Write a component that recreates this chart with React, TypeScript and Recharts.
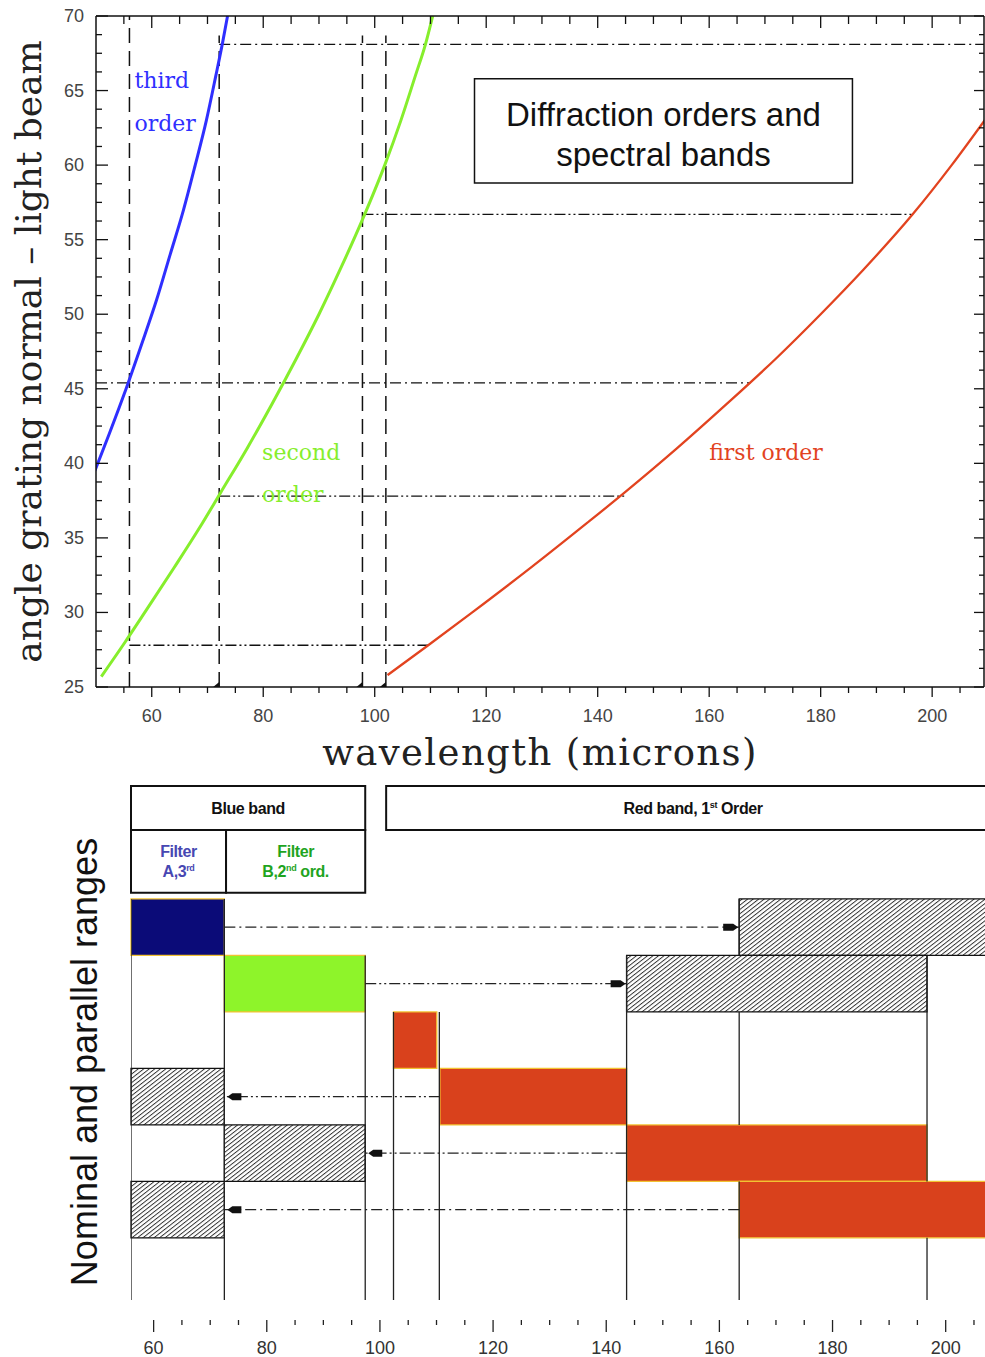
import React from 'react';
import {
  LineChart,
  ComposedChart,
  Line,
  XAxis,
  YAxis,
  ReferenceLine,
  ReferenceArea,
  ReferenceDot,
} from 'recharts';

const SANS = "'Liberation Sans', Arial, Helvetica, sans-serif";
const SERIF = "'DejaVu Serif', 'Liberation Serif', serif";

const BLUE = '#2f2fff';
const GREEN = '#86ee2c';
const RED = '#e2431f';
const NAVY = '#0b0b78';
const LIME = '#8ef42a';
const ORANGE = '#d9411c';
const YELLOW = '#f2c232';

// ---------------- top chart: diffraction curves ----------------
const THIRD_ORDER = [
  { wl: 49.8, angle: 39.5 },
  { wl: 52.4, angle: 42 },
  { wl: 55.4, angle: 45 },
  { wl: 58.2, angle: 48 },
  { wl: 60.9, angle: 51 },
  { wl: 63.3, angle: 54 },
  { wl: 65.7, angle: 57 },
  { wl: 67.8, angle: 60 },
  { wl: 69.8, angle: 63 },
  { wl: 71.5, angle: 66 },
  { wl: 72.7, angle: 68.2 },
  { wl: 73.6, angle: 70 },
];

const SECOND_ORDER = [
  { wl: 50.95, angle: 25.7 },
  { wl: 55.2, angle: 28 },
  { wl: 58.75, angle: 30 },
  { wl: 64.0, angle: 33 },
  { wl: 69.1, angle: 36 },
  { wl: 72.3, angle: 38 },
  { wl: 77.1, angle: 41 },
  { wl: 81.6, angle: 44 },
  { wl: 85.9, angle: 47 },
  { wl: 90.0, angle: 50 },
  { wl: 93.8, angle: 53 },
  { wl: 98.2, angle: 56.7 },
  { wl: 101.8, angle: 60 },
  { wl: 104.7, angle: 63 },
  { wl: 107.3, angle: 66 },
  { wl: 109.1, angle: 68.1 },
  { wl: 110.4, angle: 70 },
];

const FIRST_ORDER = [
  { wl: 102.3, angle: 25.8 },
  { wl: 109.6, angle: 27.8 },
  { wl: 117.5, angle: 30 },
  { wl: 128.0, angle: 33 },
  { wl: 138.1, angle: 36 },
  { wl: 144.7, angle: 38 },
  { wl: 154.2, angle: 41 },
  { wl: 163.2, angle: 44 },
  { wl: 171.9, angle: 47 },
  { wl: 180.0, angle: 50 },
  { wl: 187.7, angle: 53 },
  { wl: 196.5, angle: 56.7 },
  { wl: 203.5, angle: 60 },
  { wl: 209.6, angle: 63.1 },
];

const TOP_X_DOMAIN = [50, 209.3];
const TOP_Y_DOMAIN = [25, 70];
const TOP_X_TICKS = [55, 60, 65, 70, 75, 80, 85, 90, 95, 100, 105, 110, 115, 120, 125, 130, 135, 140, 145, 150, 155, 160, 165, 170, 175, 180, 185, 190, 195, 200, 205];
const TOP_X_LABELS = [60, 80, 100, 120, 140, 160, 180, 200];
const TOP_Y_TICKS = [25, 26.25, 27.5, 28.75, 30, 31.25, 32.5, 33.75, 35, 36.25, 37.5, 38.75, 40, 41.25, 42.5, 43.75, 45, 46.25, 47.5, 48.75, 50, 51.25, 52.5, 53.75, 55, 56.25, 57.5, 58.75, 60, 61.25, 62.5, 63.75, 65, 66.25, 67.5, 68.75, 70];
const TOP_Y_LABELS = [25, 30, 35, 40, 45, 50, 55, 60, 65, 70];

// band edges (vertical dashed lines)
const EDGE_X = [56, 72.1, 97.8, 102];
const EDGE_TOP = [70, 68.7, 68.7, 68.7];

// angle levels (horizontal dash-dot lines)
const LEVEL_ANGLE = [68.1, 56.7, 45.4, 37.8, 27.8];
const LEVEL_FROM = [72.1, 97.8, 50, 72.1, 56];
const LEVEL_TO = [209.3, 196.5, 167.4, 144.8, 109.8];
const LEVEL_STYLE = ['dashdot', 'dashdotdot', 'dashdot', 'dashdotdot', 'dashdotdot'];

const DASH: Record<string, string> = {
  dashed: '15 8',
  dashdot: '11 4 2 4',
  dashdotdot: '11 3 2 3 2 3',
};

const ORDER_TEXT = ['third', 'order', 'second', 'order', 'first order'];
const ORDER_TEXT_X = [56.9, 56.9, 79.8, 79.8, 160.0];
const ORDER_TEXT_Y = [65.2, 62.3, 40.2, 37.4, 40.2];
const ORDER_TEXT_COLOR = [BLUE, BLUE, GREEN, GREEN, RED];

const TITLE_BOX_X = [117.9, 185.7];
const TITLE_BOX_Y = [58.8, 65.8];
const TITLE_LINES = ['Diffraction orders and', 'spectral bands'];

// ---------------- bottom chart: nominal and parallel ranges ----------------
const BOTTOM_X_DOMAIN = [56, 209.6];
const BOTTOM_Y_DOMAIN = [-2, 7.1];
const BOTTOM_X_TICKS = [60, 65, 70, 75, 80, 85, 90, 95, 100, 105, 110, 115, 120, 125, 130, 135, 140, 145, 150, 155, 160, 165, 170, 175, 180, 185, 190, 195, 200, 205];
const BOTTOM_X_LABELS = [60, 80, 100, 120, 140, 160, 180, 200];

const NOMINAL_ROW = [0, 1, 2, 3, 4, 5];
const NOMINAL_FROM = [56, 72.5, 102.4, 110.6, 143.6, 163.5];
const NOMINAL_TO = [72.5, 97.4, 110.05, 143.6, 196.7, 209.6];
const NOMINAL_COLOR = [NAVY, LIME, ORANGE, ORANGE, ORANGE, ORANGE];

const PARALLEL_ROW = [0, 1, 3, 4, 5];
const PARALLEL_FROM = [163.5, 143.6, 56, 72.5, 56];
const PARALLEL_TO = [209.6, 196.7, 72.5, 97.4, 72.5];

// vertical guide line pieces (wavelength, row where a piece starts, row where it ends)
const GUIDE_X = [56, 72.5, 97.4, 102.4, 110.5, 143.6, 163.5, 163.5, 163.5, 196.7, 196.7];
const GUIDE_FROM = [0, 0, 1, 2, 2, 1, 0, 2, 5, 1, 6];
const GUIDE_TO = [7.1, 7.1, 7.1, 7.1, 7.1, 7.1, 1, 4, 7.1, 5, 7.1];

const ARROW_ROW = [0.5, 1.5, 3.5, 4.5, 5.5];
const ARROW_FROM = [72.5, 97.4, 110.6, 143.6, 163.5];
const ARROW_TO = [163.5, 143.6, 72.5, 97.4, 72.5];
const ARROW_STYLE = ['dashdot', 'dashdotdot', 'dashdotdot', 'dashdotdot', 'dashdot'];

const HEADER_X1 = [56, 101.1, 56, 72.8];
const HEADER_X2 = [97.4, 209.6, 72.8, 97.4];
const HEADER_Y1 = [-2, -2, -1.22, -1.22];
const HEADER_Y2 = [-1.22, -1.22, -0.11, -0.11];
const HEADER_TEXT = [
  [['Blue band']],
  [['Red band, 1', 'st', ' Order']],
  [['Filter'], ['A,3', 'rd']],
  [['Filter'], ['B,2', 'nd', ' ord.']],
];
const HEADER_COLOR = ['#111', '#111', '#4747b2', '#1fa41f'];

// ---------------- tick renderers ----------------
const XBottomTick = (props: any) => {
  const { x, y, payload } = props;
  const v = Number(payload.value);
  const major = TOP_X_LABELS.includes(v);
  return (
    <g>
      <line x1={x} x2={x} y1={y} y2={y + (major ? 10 : 6)} stroke="#111" strokeWidth={1.3} />
      {major && (
        <text x={x} y={y + 35} textAnchor="middle" fontFamily={SANS} fontSize={18} fill="#444">
          {v}
        </text>
      )}
    </g>
  );
};

const XTopTick = (props: any) => {
  const { x, y, payload } = props;
  const v = Number(payload.value);
  const major = TOP_X_LABELS.includes(v);
  return <line x1={x} x2={x} y1={y} y2={y + (major ? 12 : 8)} stroke="#111" strokeWidth={1.3} />;
};

const YLeftTick = (props: any) => {
  const { x, y, payload } = props;
  const v = Number(payload.value);
  const major = TOP_Y_LABELS.includes(v);
  return (
    <g>
      <line x1={x} x2={x + (major ? 12 : 6)} y1={y} y2={y} stroke="#111" strokeWidth={1.3} />
      {major && (
        <text x={x - 12} y={y + 6} textAnchor="end" fontFamily={SANS} fontSize={18} fill="#444">
          {v}
        </text>
      )}
    </g>
  );
};

const YRightTick = (props: any) => {
  const { x, y, payload } = props;
  const v = Number(payload.value);
  const major = TOP_Y_LABELS.includes(v);
  return <line x1={x} x2={x - (major ? 10 : 5)} y1={y} y2={y} stroke="#111" strokeWidth={1.3} />;
};

const BottomTick = (props: any) => {
  const { x, y, payload } = props;
  const v = Number(payload.value);
  const major = BOTTOM_X_LABELS.includes(v);
  return (
    <g>
      <line x1={x} x2={x} y1={y + 20} y2={y + (major ? 32 : 25)} stroke="#222" strokeWidth={1.3} />
      {major && (
        <text x={x} y={y + 54} textAnchor="middle" fontFamily={SANS} fontSize={18} fill="#333">
          {v}
        </text>
      )}
    </g>
  );
};

// ---------------- titles ----------------
const TopYTitle = ({ viewBox }: any) => {
  const cx = viewBox.x + 41;
  const cy = viewBox.y + viewBox.height / 2;
  return (
    <text x={cx} y={cy} transform={`rotate(-90, ${cx}, ${cy})`} textAnchor="middle" fontFamily={SERIF} fontSize={36} fill="#222">
      angle grating normal – light beam
    </text>
  );
};

const TopXTitle = ({ viewBox }: any) => (
  <text x={viewBox.x + viewBox.width / 2} y={viewBox.y + 78} textAnchor="middle" fontFamily={SERIF} fontSize={37} letterSpacing={1.4} fill="#222">
    wavelength (microns)
  </text>
);

const BottomYTitle = ({ viewBox }: any) => {
  const cx = viewBox.x + 97;
  const cy = viewBox.y + viewBox.height / 2 + 19;
  return (
    <text x={cx} y={cy} transform={`rotate(-90, ${cx}, ${cy})`} textAnchor="middle" fontFamily={SANS} fontSize={36} fill="#111">
      Nominal and parallel ranges
    </text>
  );
};

const TitleBoxLabel = ({ viewBox }: any) => {
  const cx = viewBox.x + viewBox.width / 2;
  const cy = viewBox.y + viewBox.height / 2;
  return (
    <g>
      <text x={cx} y={cy - 5} textAnchor="middle" fontFamily={SANS} fontSize={33} fill="#111">{TITLE_LINES[0]}</text>
      <text x={cx} y={cy + 35} textAnchor="middle" fontFamily={SANS} fontSize={33} fill="#111">{TITLE_LINES[1]}</text>
    </g>
  );
};

const HeaderLabel = ({ viewBox, lines, color }: any) => {
  const cx = viewBox.x + viewBox.width / 2;
  const cy = viewBox.y + viewBox.height / 2;
  const n = lines.length;
  return (
    <g>
      {lines.map((segs: string[], i: number) => {
        const ly = cy + (i - (n - 1) / 2) * 20 + 6;
        return (
          <text key={i} x={cx} y={ly} textAnchor="middle" fontFamily={SANS} fontWeight="bold" fontSize={16} letterSpacing={-0.4} fill={color}>
            {segs.map((s, j) =>
              j % 2 === 1 ? (
                <tspan key={j} fontSize={9} dy={-6}>{s}</tspan>
              ) : (
                <tspan key={j} fontSize={16} dy={j === 0 ? 0 : 6}>{s}</tspan>
              )
            )}
          </text>
        );
      })}
    </g>
  );
};

const makeText = (text: string, color: string) => (p: any) => (
  <text x={p.cx} y={p.cy} fontFamily={SERIF} fontSize={22} fill={color}>{text}</text>
);

const cornerMark = (p: any) => (
  <polygon points={`${p.cx - 6},${p.cy} ${p.cx},${p.cy} ${p.cx},${p.cy - 5}`} fill="#111" />
);

const arrowHead = (dir: number) => (p: any) => {
  const t = p.cx;
  const y = p.cy;
  if (dir > 0) {
    return (
      <polygon
        points={`${t - 16},${y - 3.5} ${t - 6},${y - 3.5} ${t - 1},${y} ${t - 6},${y + 3.5} ${t - 16},${y + 3.5}`}
        fill="#111"
      />
    );
  }
  return (
    <polygon
      points={`${t + 3},${y} ${t + 8},${y - 3.5} ${t + 17},${y - 3.5} ${t + 17},${y + 3.5} ${t + 8},${y + 3.5}`}
      fill="#111"
    />
  );
};

const axisLineStyle = { stroke: '#111', strokeWidth: 1.5 };

function TopChart() {
  return (
    <LineChart width={985} height={775} margin={{ top: 15, right: 0, bottom: 0, left: 0 }}>
      <XAxis
        xAxisId="b"
        dataKey="wl"
        type="number"
        domain={TOP_X_DOMAIN}
        allowDataOverflow
        ticks={TOP_X_TICKS}
        interval={0}
        tickLine={false}
        tickSize={0}
        tickMargin={0}
        tick={XBottomTick}
        axisLine={axisLineStyle}
        height={88}
        label={<TopXTitle />}
      />
      <XAxis
        xAxisId="t"
        orientation="top"
        dataKey="wl"
        type="number"
        domain={TOP_X_DOMAIN}
        allowDataOverflow
        ticks={TOP_X_TICKS}
        interval={0}
        tickLine={false}
        tickSize={0}
        tickMargin={0}
        tick={XTopTick}
        axisLine={axisLineStyle}
        height={1}
      />
      <YAxis
        yAxisId="l"
        type="number"
        domain={TOP_Y_DOMAIN}
        allowDataOverflow
        ticks={TOP_Y_TICKS}
        interval={0}
        tickLine={false}
        tickSize={0}
        tickMargin={0}
        tick={YLeftTick}
        axisLine={axisLineStyle}
        width={96}
        label={<TopYTitle />}
      />
      <YAxis
        yAxisId="r"
        orientation="right"
        type="number"
        domain={TOP_Y_DOMAIN}
        allowDataOverflow
        ticks={TOP_Y_TICKS}
        interval={0}
        tickLine={false}
        tickSize={0}
        tickMargin={0}
        tick={YRightTick}
        axisLine={axisLineStyle}
        width={1}
      />

      <ReferenceArea
        xAxisId="b"
        yAxisId="l"
        x1={TITLE_BOX_X[0]}
        x2={TITLE_BOX_X[1]}
        y1={TITLE_BOX_Y[0]}
        y2={TITLE_BOX_Y[1]}
        fill="#fff"
        fillOpacity={1}
        stroke="#111"
        strokeWidth={1.5}
        label={<TitleBoxLabel />}
      />

      {EDGE_X.map((x, i) => (
        <ReferenceLine
          key={`e${i}`}
          xAxisId="b"
          yAxisId="l"
          segment={[{ x, y: 25 }, { x, y: EDGE_TOP[i] }]}
          stroke="#111"
          strokeWidth={1.5}
          strokeDasharray={DASH.dashed}
        />
      ))}
      {LEVEL_ANGLE.map((a, i) => (
        <ReferenceLine
          key={`h${i}`}
          xAxisId="b"
          yAxisId="l"
          segment={[{ x: LEVEL_FROM[i], y: a }, { x: LEVEL_TO[i], y: a }]}
          stroke="#111"
          strokeWidth={1.3}
          strokeDasharray={DASH[LEVEL_STYLE[i]]}
        />
      ))}
      {EDGE_X.slice(1).map((x, i) => (
        <ReferenceDot key={`m${i}`} xAxisId="b" yAxisId="l" x={x} y={25} r={0} shape={cornerMark} />
      ))}

      <Line xAxisId="b" yAxisId="l" data={THIRD_ORDER} dataKey="angle" type="monotone" stroke={BLUE} strokeWidth={3} dot={false} isAnimationActive={false} />
      <Line xAxisId="b" yAxisId="l" data={SECOND_ORDER} dataKey="angle" type="monotone" stroke={GREEN} strokeWidth={3} dot={false} isAnimationActive={false} />
      <Line xAxisId="b" yAxisId="l" data={FIRST_ORDER} dataKey="angle" type="monotone" stroke={RED} strokeWidth={2.3} dot={false} isAnimationActive={false} />

      {ORDER_TEXT.map((t, i) => (
        <ReferenceDot
          key={`t${i}`}
          xAxisId="b"
          yAxisId="l"
          x={ORDER_TEXT_X[i]}
          y={ORDER_TEXT_Y[i]}
          r={0}
          shape={makeText(t, ORDER_TEXT_COLOR[i])}
        />
      ))}
    </LineChart>
  );
}

function BottomChart() {
  const guideSeries = GUIDE_X.map((x, i) => [
    { wl: x, row: GUIDE_FROM[i] },
    { wl: x, row: GUIDE_TO[i] },
  ]);
  return (
    <ComposedChart width={1000} height={582} margin={{ top: 11, right: 0, bottom: 0, left: 0 }}>
      <XAxis
        dataKey="wl"
        type="number"
        domain={BOTTOM_X_DOMAIN}
        allowDataOverflow
        ticks={BOTTOM_X_TICKS}
        interval={0}
        axisLine={false}
        tickLine={false}
        tickSize={0}
        tickMargin={0}
        tick={BottomTick}
        height={57}
      />
      <YAxis
        type="number"
        domain={BOTTOM_Y_DOMAIN}
        allowDataOverflow
        reversed
        axisLine={false}
        tickLine={false}
        tick={false}
        width={131}
        label={<BottomYTitle />}
      />

      {HEADER_X1.map((x1, i) => (
        <ReferenceArea
          key={`hd${i}`}
          x1={x1}
          x2={HEADER_X2[i]}
          y1={HEADER_Y1[i]}
          y2={HEADER_Y2[i]}
          fill="#fff"
          fillOpacity={1}
          stroke="#111"
          strokeWidth={2}
          label={<HeaderLabel lines={HEADER_TEXT[i]} color={HEADER_COLOR[i]} />}
        />
      ))}

      {PARALLEL_ROW.map((r, i) => (
        <ReferenceArea
          key={`p${i}`}
          x1={PARALLEL_FROM[i]}
          x2={PARALLEL_TO[i]}
          y1={r}
          y2={r + 1}
          fill="url(#hatch)"
          fillOpacity={1}
          stroke="#111"
          strokeWidth={1.3}
        />
      ))}
      {NOMINAL_ROW.map((r, i) => (
        <ReferenceArea
          key={`n${i}`}
          x1={NOMINAL_FROM[i]}
          x2={NOMINAL_TO[i]}
          y1={r}
          y2={r + 1}
          fill={NOMINAL_COLOR[i]}
          fillOpacity={1}
          stroke={YELLOW}
          strokeWidth={1.3}
        />
      ))}

      {guideSeries.map((d, i) => (
        <Line
          key={`g${i}`}
          data={d}
          dataKey="row"
          type="linear"
          stroke="#222"
          strokeWidth={1.3}
          dot={false}
          activeDot={false}
          isAnimationActive={false}
        />
      ))}

      {ARROW_ROW.map((r, i) => (
        <ReferenceLine
          key={`a${i}`}
          segment={[{ x: ARROW_FROM[i], y: r }, { x: ARROW_TO[i], y: r }]}
          stroke="#222"
          strokeWidth={1.3}
          strokeDasharray={DASH[ARROW_STYLE[i]]}
        />
      ))}
      {ARROW_ROW.map((r, i) => (
        <ReferenceDot
          key={`ah${i}`}
          x={ARROW_TO[i]}
          y={r}
          r={0}
          shape={arrowHead(ARROW_TO[i] > ARROW_FROM[i] ? 1 : -1)}
        />
      ))}
    </ComposedChart>
  );
}

export default function App() {
  return (
    <div
      style={{
        position: 'absolute',
        left: 0,
        top: 0,
        width: 985,
        height: 1357,
        overflow: 'hidden',
        background: '#fff',
      }}
    >
      <svg width={0} height={0} style={{ position: 'absolute' }}>
        <defs>
          <pattern id="hatch" patternUnits="userSpaceOnUse" width={3.4} height={10} patternTransform="rotate(52)">
            <rect width={3.4} height={10} fill="#fff" />
            <line x1={0.5} y1={0} x2={0.5} y2={10} stroke="#222" strokeWidth={0.9} />
          </pattern>
        </defs>
      </svg>
      <div style={{ position: 'absolute', left: 0, top: 0 }}>
        <TopChart />
      </div>
      <div style={{ position: 'absolute', left: 0, top: 775 }}>
        <BottomChart />
      </div>
    </div>
  );
}
